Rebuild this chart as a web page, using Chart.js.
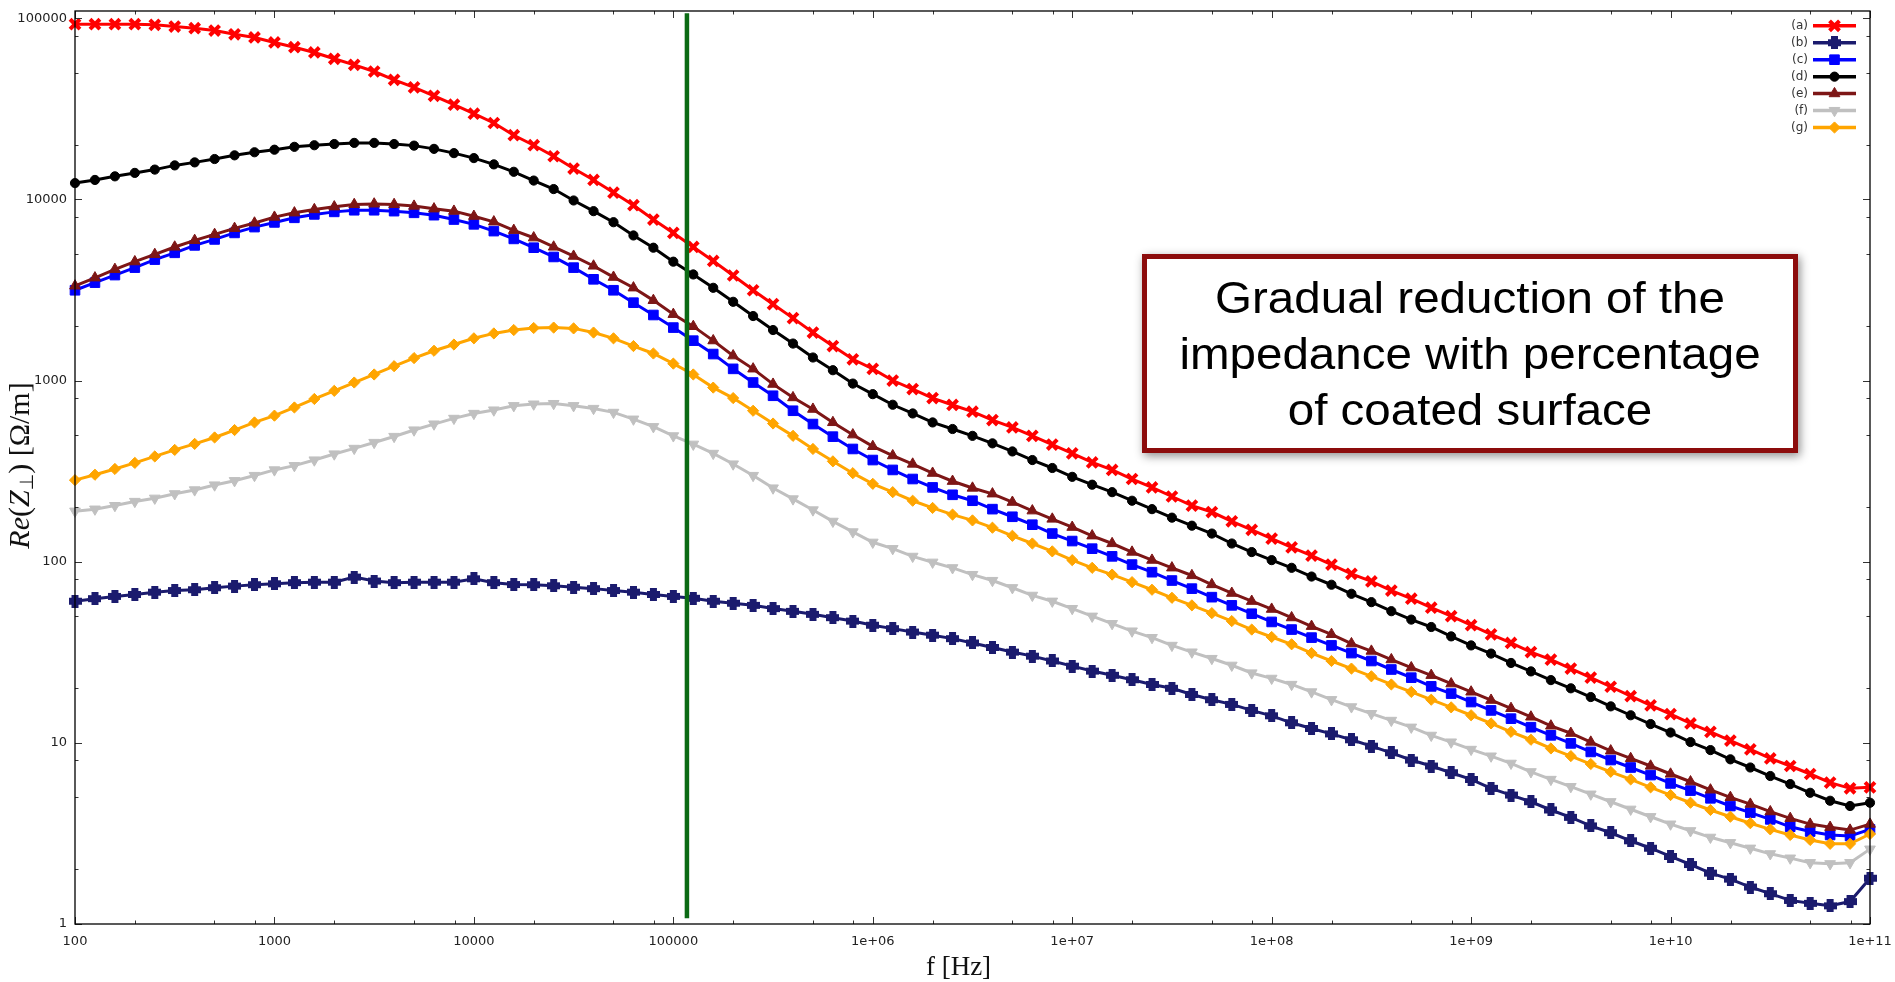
<!DOCTYPE html>
<html>
<head>
<meta charset="utf-8">
<script src="https://cdn.jsdelivr.net/npm/chart.js@4.4.1/dist/chart.umd.min.js"></script>
<style>
    html, body { margin: 0; padding: 0; background: #ffffff; }
    #wrap { width: 1895px; height: 982px; position: relative; }
</style>
</head>
<body>
<div id="wrap"><canvas id="impChart"></canvas></div>
<script>
// frequency grid [Hz], 10 points per decade
let freqs = [
    1e2, 1.259e2, 1.585e2, 1.995e2, 2.512e2, 3.162e2, 3.981e2, 5.012e2, 6.31e2, 7.943e2,
    1e3, 1.259e3, 1.585e3, 1.995e3, 2.512e3, 3.162e3, 3.981e3, 5.012e3, 6.31e3, 7.943e3,
    1e4, 1.259e4, 1.585e4, 1.995e4, 2.512e4, 3.162e4, 3.981e4, 5.012e4, 6.31e4, 7.943e4,
    1e5, 1.259e5, 1.585e5, 1.995e5, 2.512e5, 3.162e5, 3.981e5, 5.012e5, 6.31e5, 7.943e5,
    1e6, 1.259e6, 1.585e6, 1.995e6, 2.512e6, 3.162e6, 3.981e6, 5.012e6, 6.31e6, 7.943e6,
    1e7, 1.259e7, 1.585e7, 1.995e7, 2.512e7, 3.162e7, 3.981e7, 5.012e7, 6.31e7, 7.943e7,
    1e8, 1.259e8, 1.585e8, 1.995e8, 2.512e8, 3.162e8, 3.981e8, 5.012e8, 6.31e8, 7.943e8,
    1e9, 1.259e9, 1.585e9, 1.995e9, 2.512e9, 3.162e9, 3.981e9, 5.012e9, 6.31e9, 7.943e9,
    1e10, 1.259e10, 1.585e10, 1.995e10, 2.512e10, 3.162e10, 3.981e10, 5.012e10, 6.31e10, 7.943e10,
    1e11,
];

// Re(Z_perp) [Ohm/m]
let reA = [
    92700, 92700, 92700, 92700, 92000, 89900, 88100, 85500, 81500, 78300,
    73500, 69200, 64700, 59700, 55300, 50800, 45700, 41500, 37300, 33300,
    29700, 26400, 22600, 19900, 17300, 14800, 12800, 10900, 9290, 7740,
    6530, 5460, 4570, 3800, 3150, 2640, 2210, 1840, 1550, 1310,
    1160, 1000, 897, 800, 733, 673, 605, 551, 495, 443,
    396, 353, 321, 286, 257, 229, 204, 188, 167, 150,
    134, 120, 108, 96.4, 85.7, 77.8, 69.3, 62.5, 55.7, 50.0,
    44.6, 39.7, 35.6, 31.7, 28.8, 25.7, 22.9, 20.4, 18.1, 16.1,
    14.4, 12.8, 11.5, 10.3, 9.20, 8.20, 7.45, 6.73, 6.03, 5.61,
    5.68,
];
let reB = [
    60.5, 62.5, 64.3, 65.9, 67.9, 69.3, 70.0, 71.8, 73.3, 74.6,
    75.5, 76.6, 77.1, 77.1, 82.2, 78.2, 76.6, 77.1, 77.1, 77.1,
    80.5, 76.6, 74.8, 74.6, 73.6, 72.3, 71.0, 69.3, 67.9, 65.9,
    64.3, 62.8, 60.5, 59.0, 57.4, 55.1, 53.2, 51.2, 49.1, 47.0,
    44.6, 42.7, 40.9, 39.3, 37.6, 35.6, 33.6, 31.7, 30.1, 28.3,
    26.5, 24.9, 23.6, 22.3, 21.0, 20.0, 18.5, 17.3, 16.3, 15.1,
    14.1, 12.9, 12.0, 11.2, 10.4, 9.59, 8.81, 8.04, 7.45, 6.84,
    6.28, 5.61, 5.15, 4.73, 4.26, 3.88, 3.48, 3.19, 2.88, 2.62,
    2.36, 2.13, 1.91, 1.77, 1.60, 1.47, 1.35, 1.30, 1.26, 1.33,
    1.79,
];
let reC = [
    3150, 3470, 3820, 4200, 4650, 5070, 5570, 6010, 6530, 7030,
    7460, 7910, 8260, 8530, 8710, 8710, 8610, 8430, 8180, 7740,
    7280, 6680, 6050, 5410, 4810, 4200, 3620, 3150, 2690, 2300,
    1960, 1660, 1400, 1160, 975, 824, 681, 575, 490, 419,
    364, 321, 286, 257, 234, 217, 195, 177, 160, 143,
    130, 118, 107, 96.4, 87.5, 78.7, 71.0, 63.7, 57.4, 51.6,
    46.5, 42.2, 38.1, 34.5, 31.3, 28.3, 25.4, 22.9, 20.5, 18.7,
    16.8, 15.1, 13.6, 12.2, 11.0, 9.93, 8.91, 8.04, 7.31, 6.64,
    5.97, 5.45, 4.94, 4.48, 4.12, 3.78, 3.44, 3.24, 3.10, 3.06,
    3.33,
];
let reD = [
    12300, 12800, 13400, 14000, 14600, 15400, 16000, 16700, 17500, 18200,
    18800, 19500, 19900, 20200, 20500, 20500, 20200, 19800, 19000, 18000,
    16900, 15600, 14200, 12700, 11400, 9860, 8610, 7480, 6320, 5410,
    4530, 3850, 3250, 2720, 2270, 1900, 1600, 1340, 1140, 962,
    841, 735, 658, 587, 540, 495, 450, 406, 364, 329,
    294, 266, 242, 217, 195, 175, 158, 143, 126, 113,
    102, 92.5, 82.8, 74.6, 66.5, 59.8, 53.3, 47.9, 43.6, 38.7,
    34.5, 31.1, 27.6, 24.8, 22.2, 20.0, 17.9, 15.9, 14.2, 12.7,
    11.4, 10.1, 9.12, 8.11, 7.31, 6.56, 5.92, 5.30, 4.79, 4.48,
    4.67,
];
let reE = [
    3330, 3690, 4110, 4530, 4970, 5460, 5940, 6410, 6920, 7410,
    7980, 8430, 8790, 9100, 9380, 9440, 9380, 9180, 8870, 8610,
    8070, 7520, 6750, 6140, 5460, 4860, 4290, 3720, 3250, 2770,
    2320, 1990, 1660, 1370, 1160, 955, 805, 695, 587, 502,
    433, 385, 346, 308, 278, 255, 237, 213, 191, 172,
    155, 139, 126, 113, 102, 92.5, 83.9, 74.8, 67.0, 60.5,
    54.7, 49.1, 44.0, 39.7, 35.3, 32.1, 28.8, 26.0, 23.6, 21.2,
    19.1, 17.2, 15.5, 13.9, 12.4, 11.3, 10.1, 9.04, 8.20, 7.45,
    6.73, 6.10, 5.50, 5.00, 4.59, 4.17, 3.83, 3.56, 3.42, 3.30,
    3.56,
];
let reF = [
    190, 195, 204, 215, 224, 237, 249, 265, 280, 299,
    321, 339, 364, 393, 422, 455, 491, 533, 575, 618,
    658, 687, 726, 741, 746, 726, 701, 667, 612, 556,
    495, 445, 396, 346, 299, 255, 222, 193, 167, 146,
    128, 118, 107, 99.3, 92.5, 84.9, 78.7, 71.8, 65.2, 60.5,
    55.1, 50.0, 45.5, 41.4, 38.1, 34.5, 31.7, 29.2, 26.8, 24.3,
    22.7, 21.0, 19.1, 17.3, 15.8, 14.5, 13.3, 12.2, 11.0, 10.1,
    9.20, 8.45, 7.71, 6.92, 6.28, 5.73, 5.21, 4.73, 4.30, 3.91,
    3.56, 3.27, 3.01, 2.81, 2.62, 2.44, 2.31, 2.18, 2.15, 2.18,
    2.59,
];
let reG = [
    282, 302, 325, 351, 381, 414, 447, 485, 533, 587,
    640, 710, 791, 877, 975, 1080, 1200, 1330, 1460, 1580,
    1710, 1820, 1900, 1950, 1960, 1940, 1840, 1710, 1550, 1410,
    1240, 1080, 914, 800, 681, 579, 495, 419, 358, 308,
    269, 242, 217, 198, 182, 169, 154, 139, 126, 114,
    102, 92.5, 84.9, 77.1, 70.0, 63.2, 57.4, 52.0, 47.0, 42.2,
    38.4, 35.0, 31.3, 28.3, 25.7, 23.3, 21.0, 19.1, 17.3, 15.7,
    14.2, 12.8, 11.5, 10.4, 9.31, 8.45, 7.64, 6.92, 6.28, 5.68,
    5.15, 4.67, 4.26, 3.91, 3.60, 3.33, 3.10, 2.91, 2.77, 2.77,
    3.14,
];

let seriesLabels = ["(a)", "(b)", "(c)", "(d)", "(e)", "(f)", "(g)"];

// vertical marker line (frequency, y range)
let cutFreq = 1.17e5;
let cutRange = [106500, 1.075];

// axis ticks
let xTickValues = [1e2, 1e3, 1e4, 1e5, 1e6, 1e7, 1e8, 1e9, 1e10, 1e11];
let xTickLabels = ["100", "1000", "10000", "100000", "1e+06", "1e+07", "1e+08", "1e+09", "1e+10", "1e+11"];
let yTickValues = [1, 10, 100, 1000, 10000, 100000];
let yTickLabels = ["1", "10", "100", "1000", "10000", "100000"];
let minorSteps = [2, 5, 8];

let xTitle = "f [Hz]";
let noteLines = ["Gradual reduction of the", "impedance with percentage", "of coated surface"];

// ---- styles ----
let colors = ["#ff0000", "#1b1b6e", "#0000ff", "#000000", "#7d1616", "#c0c0c0", "#ffa500"];

// navy "plus" marker
let plusMark = document.createElement("canvas");
plusMark.width = 13;
plusMark.height = 13;
let pm = plusMark.getContext("2d");
pm.fillStyle = colors[1];
pm.fillRect(0, 3, 13, 7);
pm.fillRect(3, 0, 7, 13);

let markers = [
    { pointStyle: "crossRot", radius: 7, borderWidth: 4, rotation: 0 },
    { pointStyle: plusMark, radius: 6.5, borderWidth: 0, rotation: 0 },
    { pointStyle: "rect", radius: 6.8, borderWidth: 1, rotation: 0 },
    { pointStyle: "circle", radius: 4.6, borderWidth: 1, rotation: 0 },
    { pointStyle: "triangle", radius: 6.2, borderWidth: 1, rotation: 0 },
    { pointStyle: "triangle", radius: 6.2, borderWidth: 1, rotation: 180 },
    { pointStyle: "rectRot", radius: 5.6, borderWidth: 1, rotation: 0 },
];

let series = [reA, reB, reC, reD, reE, reF, reG];

let datasets = series.map((vals, i) => ({
    label: seriesLabels[i],
    data: freqs.map((f, k) => ({ x: f, y: vals[k] })),
    borderColor: colors[i],
    backgroundColor: colors[i],
    borderWidth: 3,
    tension: 0,
    pointStyle: markers[i].pointStyle,
    pointRadius: markers[i].radius,
    pointRotation: markers[i].rotation,
    pointBorderWidth: markers[i].borderWidth,
    pointBackgroundColor: colors[i],
    pointBorderColor: colors[i],
    clip: false,
    order: 7 - i,
}));

datasets.push({
    label: "cut",
    data: [{ x: cutFreq, y: cutRange[0] }, { x: cutFreq, y: cutRange[1] }],
    borderColor: "#0b6a14",
    borderWidth: 4.5,
    pointRadius: 0,
    clip: false,
    order: 0,
});

// frame + inward tick marks on all four sides
let frameTicks = {
    id: "frameTicks",
    afterDatasetsDraw(chart) {
        const { ctx, chartArea: a, scales: { x, y } } = chart;
        ctx.save();
        ctx.strokeStyle = "#333";
        ctx.lineWidth = 1;
        const xt = [];
        const yt = [];
        xTickValues.forEach((v, i) => {
            xt.push([v, 7]);
            if (i < xTickValues.length - 1) minorSteps.forEach((m) => xt.push([v * m, 3.5]));
        });
        yTickValues.forEach((v, i) => {
            yt.push([v, 7]);
            if (i < yTickValues.length - 1) minorSteps.forEach((m) => yt.push([v * m, 3.5]));
        });
        ctx.beginPath();
        xt.forEach(([v, len]) => {
            const px = Math.round(x.getPixelForValue(v)) + 0.5;
            ctx.moveTo(px, a.bottom);
            ctx.lineTo(px, a.bottom - len);
            ctx.moveTo(px, a.top);
            ctx.lineTo(px, a.top + len);
        });
        yt.forEach(([v, len]) => {
            const py = Math.round(y.getPixelForValue(v)) + 0.5;
            ctx.moveTo(a.left, py);
            ctx.lineTo(a.left + len, py);
            ctx.moveTo(a.right, py);
            ctx.lineTo(a.right - len, py);
        });
        ctx.stroke();
        ctx.strokeStyle = "#000";
        ctx.lineWidth = 1.3;
        ctx.strokeRect(a.left, a.top, a.right - a.left, a.bottom - a.top);
        ctx.restore();
    },
};

// legend: label, then line with marker
let sideLegend = {
    id: "sideLegend",
    afterDatasetsDraw(chart) {
        const { ctx, chartArea: a } = chart;
        ctx.save();
        ctx.font = "12px 'DejaVu Sans'";
        ctx.textAlign = "right";
        ctx.textBaseline = "middle";
        seriesLabels.forEach((lab, i) => {
            const yy = a.top + 14.8 + i * 16.95;
            ctx.fillStyle = "#333";
            ctx.fillText(lab, a.right - 62, yy);
            ctx.strokeStyle = colors[i];
            ctx.lineWidth = 3.5;
            ctx.beginPath();
            ctx.moveTo(a.right - 57, yy);
            ctx.lineTo(a.right - 14, yy);
            ctx.stroke();
            ctx.fillStyle = colors[i];
            ctx.lineWidth = markers[i].borderWidth;
            if (Chart.helpers && Chart.helpers.drawPoint) {
                Chart.helpers.drawPoint(ctx, markers[i], a.right - 35.5, yy);
            }
        });
        ctx.restore();
    },
};

// axis titles: x in serif, y rotated with italic math part
let axisTitles = {
    id: "axisTitles",
    afterDraw(chart) {
        const ctx = chart.ctx;
        const a = chart.chartArea;
        const big = "30px 'Liberation Serif', 'DejaVu Serif'";
        ctx.save();
        ctx.fillStyle = "#111";
        ctx.textBaseline = "middle";
        ctx.textAlign = "center";
        ctx.font = "27px 'Liberation Serif', 'DejaVu Serif'";
        ctx.fillText(xTitle, (a.left + a.right) / 2 - 14, a.bottom + 44);

        const parts = [
            ["Re", "italic " + big, 0],
            ["(", big, 0],
            ["Z", "italic " + big, 0],
            ["\u22A5", "19px 'DejaVu Sans'", 7],
            [")", big, 0],
            [" [\u03A9/m]", big, 0],
        ];
        ctx.textAlign = "left";
        let total = 0;
        parts.forEach((p) => {
            ctx.font = p[1];
            total += ctx.measureText(p[0]).width;
        });
        ctx.translate(21, (a.top + a.bottom) / 2 - 2);
        ctx.rotate(-Math.PI / 2);
        let pos = -total / 2;
        parts.forEach((p) => {
            ctx.font = p[1];
            ctx.fillText(p[0], pos, p[2]);
            pos += ctx.measureText(p[0]).width;
        });
        ctx.restore();
    },
};

// framed note with shadow
let noteBox = {
    id: "noteBox",
    afterDraw(chart) {
        const ctx = chart.ctx;
        ctx.save();
        ctx.shadowColor = "rgba(0,0,0,0.45)";
        ctx.shadowBlur = 9;
        ctx.shadowOffsetX = 2;
        ctx.shadowOffsetY = 3;
        ctx.fillStyle = "#ffffff";
        ctx.fillRect(1142, 254, 656, 199);
        ctx.shadowColor = "transparent";
        ctx.lineWidth = 5;
        ctx.strokeStyle = "#8c0c0c";
        ctx.strokeRect(1144.5, 256.5, 651, 194);
        ctx.fillStyle = "#000";
        ctx.font = "44px 'Liberation Sans', Arial";
        ctx.textAlign = "center";
        ctx.textBaseline = "alphabetic";
        noteLines.forEach((t, i) => {
            ctx.save();
            ctx.translate(1470, 313 + i * 56.2);
            ctx.scale(1.08, 1);
            ctx.fillText(t, 0, 0);
            ctx.restore();
        });
        ctx.restore();
    },
};

let drawImpedance = () => {
    var ctx = document.getElementById("impChart").getContext("2d");
    return new Chart(ctx, {
        type: "line",
        data: { datasets: datasets },
        plugins: [frameTicks, sideLegend, axisTitles, noteBox],
        options: {
            responsive: true,
            maintainAspectRatio: false,
            animation: false,
            layout: { padding: { top: 9.5, right: 25, bottom: 0, left: 0 } },
            plugins: {
                legend: { display: false },
                tooltip: { enabled: false },
            },
            scales: {
                x: {
                    type: "logarithmic",
                    min: 100,
                    max: 1e11,
                    grid: { display: false, drawTicks: false },
                    border: { display: false },
                    afterBuildTicks: (s) => {
                        s.ticks = xTickValues.map((v) => ({ value: v }));
                    },
                    afterFit: (s) => {
                        s.height = 58;
                        s.paddingLeft = 0;
                        s.paddingRight = 0;
                    },
                    ticks: {
                        autoSkip: false,
                        maxRotation: 0,
                        padding: 10,
                        color: "#222",
                        font: { family: "DejaVu Sans", size: 13 },
                        callback: (v, i) => xTickLabels[i],
                    },
                },
                y: {
                    type: "logarithmic",
                    min: 1,
                    max: 109600,
                    grid: { display: false, drawTicks: false },
                    border: { display: false },
                    afterBuildTicks: (s) => {
                        s.ticks = yTickValues.map((v) => ({ value: v }));
                    },
                    afterFit: (s) => {
                        s.width = 75;
                        s.paddingTop = 0;
                        s.paddingBottom = 0;
                    },
                    ticks: {
                        autoSkip: false,
                        padding: 8,
                        color: "#222",
                        font: { family: "DejaVu Sans", size: 13 },
                        callback: (v, i) => yTickLabels[i],
                    },
                },
            },
        },
    });
};
drawImpedance();
</script>
</body>
</html>
